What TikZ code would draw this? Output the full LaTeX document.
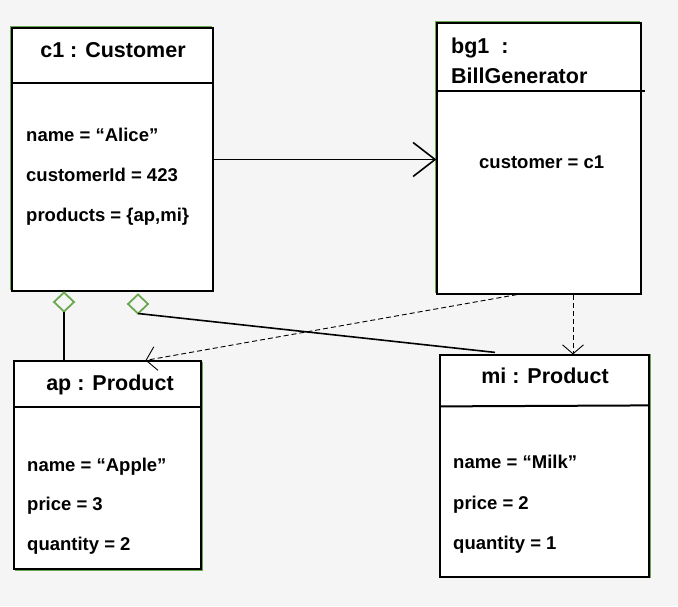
\documentclass[tikz,border=0pt]{standalone}
\usepackage{fontspec}
\setmainfont{Liberation Sans}
\usetikzlibrary{positioning,arrows.meta,shapes.geometric,shadows}
\definecolor{pagegray}{RGB}{245,245,245}
\definecolor{umlgreen}{RGB}{106,168,79}

\begin{document}
\begin{tikzpicture}[x=1pt,y=-1pt]
  \tikzset{objbox/.style={draw, fill=white, line width=1.2pt, inner sep=0pt}}
  \tikzset{greenedge/.style 2 args={general shadow={draw=umlgreen, fill=none, line width=1.5pt, shadow xshift=#1, shadow yshift=#2}}}
  \tikzset{objtitle/.style={font=\bfseries\fontsize{21.5}{26}\selectfont, anchor=base, inner sep=0pt}}
  \tikzset{attr/.style={font=\bfseries\fontsize{18.5}{22}\selectfont, anchor=base west, inner sep=0pt}}
  \tikzset{agg/.style={diamond, draw=umlgreen, fill=pagegray, line width=1.8pt, minimum width=20pt, minimum height=19pt, inner sep=0pt, outer sep=0pt}}
  \tikzset{dep/.style={dash pattern=on 5pt off 3pt, line width=0.9pt}}
  \fill[pagegray] (0,0) rectangle (678,606);
  \useasboundingbox (0,0) rectangle (678,606);

  % objects
  \node[objbox, greenedge={-1.3pt}{1.3pt}, minimum width=201pt, minimum height=263pt] (c1) at (112.5,159.5) {};
  \node[objbox, greenedge={-1.3pt}{1.3pt}, minimum width=204pt, minimum height=271pt] (bg1) at (539,158.5) {};
  \node[objbox, greenedge={1.6pt}{-1.6pt}, minimum width=187pt, minimum height=208pt] (ap) at (107.5,465) {};
  \node[objbox, greenedge={1.6pt}{0pt}, minimum width=209pt, minimum height=222pt] (mi) at (544.5,466) {};

  \draw[line width=2pt] ([yshift=-56pt]c1.north west) -- ([yshift=-56pt]c1.north east);
  \draw[line width=2pt] ([yshift=-69pt]bg1.north west) -- ([xshift=3pt,yshift=-69pt]bg1.north east);
  \draw[line width=2pt] ([yshift=-47pt]ap.north west) -- ([yshift=-47pt]ap.north east);
  \draw[line width=2pt] ([yshift=-52pt]mi.north west) -- ([yshift=-51pt]mi.north east);

  % titles and slots
  \node[objtitle] (c1title) at (113,57) {c1 : Customer};
  \node[attr] (c1name) at (26,141) {name = “Alice”};
  \node[attr] (c1id) at (26,181) {customerId = 423};
  \node[attr] (c1prod) at (26,221) {products = \{ap,mi\}};

  \node[objtitle, anchor=base west] (bg1title) at (451,53) {bg1\ \ :};
  \node[objtitle, anchor=base west] (bg1class) at (451,83) {BillGenerator};
  \node[attr] (bg1cust) at (479,168) {customer = c1};

  \node[objtitle] (aptitle) at (110,390) {ap : Product};
  \node[attr] (apname) at (27,471) {name = “Apple”};
  \node[attr] (apprice) at (27,510) {price = 3};
  \node[attr] (apqty) at (27,550) {quantity = 2};

  \node[objtitle] (mititle) at (545,383) {mi : Product};
  \node[attr] (miname) at (453,468) {name = “Milk”};
  \node[attr] (miprice) at (453,509) {price = 2};
  \node[attr] (miqty) at (453,549) {quantity = 1};

  % links
  \draw[line width=1.6pt, -{Straight Barb[length=22pt,width=34pt]}] (c1.east) -- (c1.east -| bg1.west);

  \node[agg] (d1) at (64,302) {};
  \node[agg] (d2) at (138,304) {};
  \coordinate (miin) at ([xshift=-49.5pt,yshift=2pt]mi.north);
  \draw[line width=1.6pt] (d1.south) -- (d1.south |- ap.north);
  \draw[line width=1.6pt] (d2.south) -- (miin);

  \coordinate (bgleft) at ([xshift=-22pt]bg1.south);
  \coordinate (bgright) at ([xshift=34pt]bg1.south);
  \coordinate (apin) at ([xshift=38pt]ap.north);
  \draw[dep, -{Straight Barb[length=10pt,width=24pt]}] (bgleft) -- (apin);
  \draw[dep, -{Straight Barb[length=9pt,width=21pt]}] (bgright) -- (bgright |- mi.north);
\end{tikzpicture}
\end{document}
